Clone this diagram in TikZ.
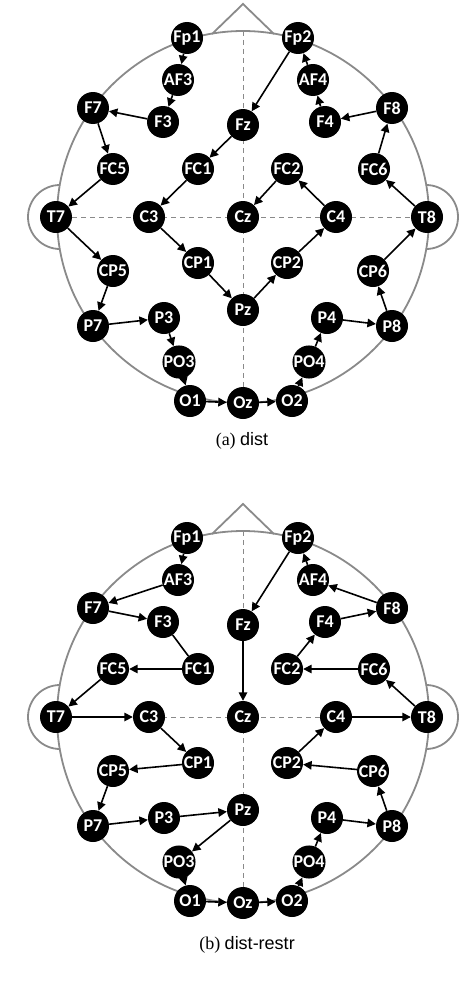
\documentclass[tikz,border=0pt]{standalone}
\usepackage{fontspec}
\setmainfont{Liberation Serif}
\setsansfont{Liberation Sans}
\newfontfamily\elfont{Carlito}
\usetikzlibrary{arrows.meta, backgrounds}
\definecolor{cHead}{RGB}{138,138,138}

\begin{document}
\begin{tikzpicture}[x=1pt, y=-1pt,
          el/.style={circle, fill=black, text=white, minimum size=32pt, inner sep=0pt,
                     font=\elfont\bfseries\fontsize{18}{18}\selectfont},
          head/.style={draw=cHead, line width=1.8pt},
          guide/.style={draw=cHead, line width=0.9pt, dash pattern=on 5pt off 4pt},
          caption/.style={font=\fontsize{18}{18}\selectfont},
          link/.style={line width=1.6pt},
          >={Triangle[length=8.5pt, width=8.5pt]}]
        \useasboundingbox (0,0) rectangle (460,990);
        % head outline + electrodes, same for both panels
        \foreach \p/\dy in {a/0, b/500} {
          \begin{scope}[yshift=-\dy pt, name prefix=\p-]
            \draw[head] (243,217) circle[radius=186pt];
            \draw[head] (212,34) -- (243,4) -- (274,34);
            \draw[head] (60,185) arc[start angle=90, end angle=270, radius=32pt];
            \draw[head] (426,185) arc[start angle=90, end angle=-90, radius=32pt];
            \coordinate (top) at (243,31);
            \foreach \n/\x/\y in {Fp1/187/38, Fp2/298/38, AF3/178/80, AF4/313/80,
                F7/93/108, F3/163/122, Fz/243/125, F4/325/122, F8/392/108,
                FC5/113/169, FC1/198/169, FC2/287/169, FC6/374/169,
                T7/56/217, C3/149/217, Cz/243/217, C4/336/217, T8/427/217,
                CP5/113/271, CP1/198/263, CP2/287/263, CP6/373/271,
                P7/93/326, P3/164/318, Pz/243/310, P4/327/318, P8/392/326,
                PO3/179/362, PO4/309/362, O1/190/401, Oz/243/403, O2/292/401}
              \node[el] (\n) at (\x,\y) {\n};
            \begin{pgfonlayer}{background}
              \draw[guide] (top) -- (Oz);
              \draw[guide] (T7) -- (T8);
            \end{pgfonlayer}
          \end{scope}
        }
        % (a) dist
        \draw[->, link] (a-Fp1)--(a-AF3); \draw[->, link] (a-AF3)--(a-F3);
        \draw[->, link] (a-F3)--(a-F7); \draw[->, link] (a-F7)--(a-FC5);
        \draw[->, link] (a-FC5)--(a-T7); \draw[->, link] (a-T7)--(a-CP5);
        \draw[->, link] (a-CP5)--(a-P7); \draw[->, link] (a-P7)--(a-P3);
        \draw[->, link] (a-P3)--(a-PO3); \draw[->, link] (a-PO3)--(a-O1);
        \draw[->, link] (a-O1)--(a-Oz); \draw[->, link] (a-Oz)--(a-O2);
        \draw[->, link] (a-O2)--(a-PO4); \draw[->, link] (a-PO4)--(a-P4);
        \draw[->, link] (a-P4)--(a-P8); \draw[->, link] (a-P8)--(a-CP6);
        \draw[->, link] (a-CP6)--(a-T8); \draw[->, link] (a-T8)--(a-FC6);
        \draw[->, link] (a-FC6)--(a-F8); \draw[->, link] (a-F8)--(a-F4);
        \draw[->, link] (a-F4)--(a-AF4); \draw[->, link] (a-AF4)--(a-Fp2);
        \draw[->, link] (a-Fp2)--(a-Fz); \draw[->, link] (a-Fz)--(a-FC1);
        \draw[->, link] (a-FC1)--(a-C3); \draw[->, link] (a-C3)--(a-CP1);
        \draw[->, link] (a-CP1)--(a-Pz); \draw[->, link] (a-Pz)--(a-CP2);
        \draw[->, link] (a-CP2)--(a-C4); \draw[->, link] (a-C4)--(a-FC2);
        \draw[->, link] (a-FC2)--(a-Cz);
        \node[caption] (capA) at (242,441) {(a) \textsf{dist}};
        % (b) dist-restr
        \draw[->, link] (b-Fp1)--(b-AF3); \draw[->, link] (b-AF3)--(b-F7);
        \draw[->, link] (b-F7)--(b-F3); \draw[link] (b-F3)--(b-FC1);
        \draw[->, link] (b-FC1)--(b-FC5); \draw[->, link] (b-FC5)--(b-T7);
        \draw[->, link] (b-T7)--(b-C3); \draw[->, link] (b-C3)--(b-CP1);
        \draw[->, link] (b-CP1)--(b-CP5); \draw[->, link] (b-CP5)--(b-P7);
        \draw[->, link] (b-P7)--(b-P3); \draw[->, link] (b-P3)--(b-Pz);
        \draw[->, link] (b-Pz)--(b-PO3); \draw[->, link] (b-PO3)--(b-O1);
        \draw[->, link] (b-O1)--(b-Oz); \draw[->, link] (b-Oz)--(b-O2);
        \draw[->, link] (b-O2)--(b-PO4); \draw[->, link] (b-PO4)--(b-P4);
        \draw[->, link] (b-P4)--(b-P8); \draw[->, link] (b-P8)--(b-CP6);
        \draw[->, link] (b-CP6)--(b-CP2); \draw[->, link] (b-CP2)--(b-C4);
        \draw[->, link] (b-C4)--(b-T8); \draw[->, link] (b-T8)--(b-FC6);
        \draw[->, link] (b-FC6)--(b-FC2); \draw[->, link] (b-FC2)--(b-F4);
        \draw[->, link] (b-F4)--(b-F8); \draw[->, link] (b-F8)--(b-AF4);
        \draw[->, link] (b-AF4)--(b-Fp2); \draw[->, link] (b-Fp2)--(b-Fz);
        \draw[->, link] (b-Fz)--(b-Cz);
        \node[caption] (capB) at (247,945) {(b) \textsf{dist-restr}};
      \end{tikzpicture}
\end{document}
